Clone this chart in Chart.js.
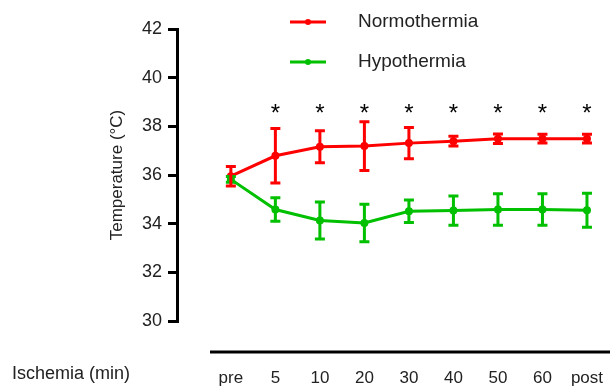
<!DOCTYPE html>
<html>
<head>
<meta charset="utf-8">
<script src="https://cdn.jsdelivr.net/npm/chart.js@4.4.1/dist/chart.umd.min.js"></script>
<style>
  html, body { margin: 0; padding: 0; background: #fff; }
  #wrap { width: 610px; height: 386px; }
</style>
</head>
<body>
<div id="wrap"><canvas id="temp-chart"></canvas></div>
<script>
const categories = ['pre', '5', '10', '20', '30', '40', '50', '60', 'post'];
const normoMean = [35.95, 36.79, 37.16, 37.19, 37.31, 37.39, 37.49, 37.49, 37.49];
const normoErr = [0.40, 1.12, 0.66, 1.00, 0.64, 0.20, 0.20, 0.18, 0.18];
const hypoMean = [35.82, 34.58, 34.13, 34.03, 34.51, 34.54, 34.58, 34.58, 34.55];
const hypoErr = [0.12, 0.48, 0.76, 0.77, 0.46, 0.60, 0.65, 0.65, 0.70];
const sigMarks = ['', '*', '*', '*', '*', '*', '*', '*', '*'];
const sigLevel = 38.6;
const yTicks = [30, 32, 34, 36, 38, 40, 42];

const RED = '#ff0000';
const GREEN = '#00c000';
const FONT = '"Liberation Sans", Arial, sans-serif';

const toPoints = (arr) => arr.map((v, i) => ({ x: i, y: v }));

// error bars, significance marks, legend and the detached x axis line
const extras = {
    id: 'extras',
    afterDatasetsDraw(chart) {
        const { ctx, scales: { x, y }, chartArea } = chart;
        ctx.save();
        ctx.lineWidth = 3;
        const bars = [[hypoMean, hypoErr, GREEN], [normoMean, normoErr, RED]];
        bars.forEach(([mean, err, color]) => {
            ctx.strokeStyle = color;
            mean.forEach((m, i) => {
                const px = x.getPixelForValue(i);
                const top = y.getPixelForValue(m + err[i]);
                const bot = y.getPixelForValue(m - err[i]);
                ctx.beginPath();
                ctx.moveTo(px, top); ctx.lineTo(px, bot);
                ctx.moveTo(px - 5, top); ctx.lineTo(px + 5, top);
                ctx.moveTo(px - 5, bot); ctx.lineTo(px + 5, bot);
                ctx.stroke();
            });
        });

        ctx.fillStyle = '#000';
        ctx.font = '24px ' + FONT;
        ctx.textAlign = 'center';
        ctx.textBaseline = 'middle';
        sigMarks.forEach((s, i) => {
            if (s) ctx.fillText(s, x.getPixelForValue(i), y.getPixelForValue(sigLevel) + 3);
        });

        // legend
        const rows = [[chart.data.datasets[1], 22], [chart.data.datasets[0], 62]];
        ctx.font = '19px ' + FONT;
        ctx.textAlign = 'left';
        rows.forEach(([ds, ly]) => {
            ctx.strokeStyle = ds.borderColor;
            ctx.fillStyle = ds.borderColor;
            ctx.lineWidth = 3;
            ctx.beginPath();
            ctx.moveTo(290, ly); ctx.lineTo(326, ly);
            ctx.stroke();
            ctx.beginPath();
            ctx.arc(308, ly, 3, 0, Math.PI * 2);
            ctx.fill();
            ctx.fillStyle = '#222';
            ctx.fillText(ds.label, 358, ly);
        });

        // x axis sits below the plot
        ctx.strokeStyle = '#000';
        ctx.lineWidth = 3;
        ctx.beginPath();
        ctx.moveTo(210, chartArea.bottom + 31);
        ctx.lineTo(610, chartArea.bottom + 31);
        ctx.stroke();

        ctx.fillStyle = '#222';
        ctx.font = '18px ' + FONT;
        ctx.fillText('Ischemia (min)', 12, chartArea.bottom + 53);
        ctx.restore();
    }
};

new Chart(document.getElementById('temp-chart'), {
    type: 'line',
    data: {
        datasets: [
            {
                label: 'Hypothermia',
                data: toPoints(hypoMean),
                borderColor: GREEN,
                backgroundColor: GREEN,
                borderWidth: 3,
                pointRadius: 2.5,
                tension: 0
            },
            {
                label: 'Normothermia',
                data: toPoints(normoMean),
                borderColor: RED,
                backgroundColor: RED,
                borderWidth: 3,
                pointRadius: 2.5,
                tension: 0
            }
        ]
    },
    options: {
        responsive: true,
        maintainAspectRatio: false,
        animation: false,
        layout: { padding: { top: 29, right: 0, bottom: 0, left: 0 } },
        plugins: { legend: { display: false }, tooltip: { enabled: false } },
        scales: {
            x: {
                type: 'linear',
                min: -1.21,
                max: 8.36,
                afterBuildTicks: (s) => { s.ticks = categories.map((c, i) => ({ value: i })); },
                afterFit: (s) => { s.height = 65; s.paddingLeft = 0; s.paddingRight = 0; },
                border: { display: false },
                grid: { display: false },
                ticks: {
                    padding: 39,
                    maxRotation: 0,
                    color: '#222',
                    font: { family: FONT, size: 17 },
                    callback: (v) => categories[v]
                }
            },
            y: {
                min: 30,
                max: 42,
                afterBuildTicks: (s) => { s.ticks = yTicks.map(v => ({ value: v })); },
                afterFit: (s) => { s.width = 177; },
                border: { display: true, color: '#000', width: 3 },
                grid: { drawOnChartArea: false, drawTicks: true, tickLength: 9, color: '#000', lineWidth: 3 },
                ticks: {
                    padding: 6,
                    color: '#222',
                    font: { family: FONT, size: 18 }
                },
                title: {
                    display: true,
                    text: 'Temperature (°C)',
                    color: '#222',
                    font: { family: FONT, size: 17 },
                    padding: { top: 107, bottom: 0 }
                }
            }
        }
    },
    plugins: [extras]
});
</script>
</body>
</html>
